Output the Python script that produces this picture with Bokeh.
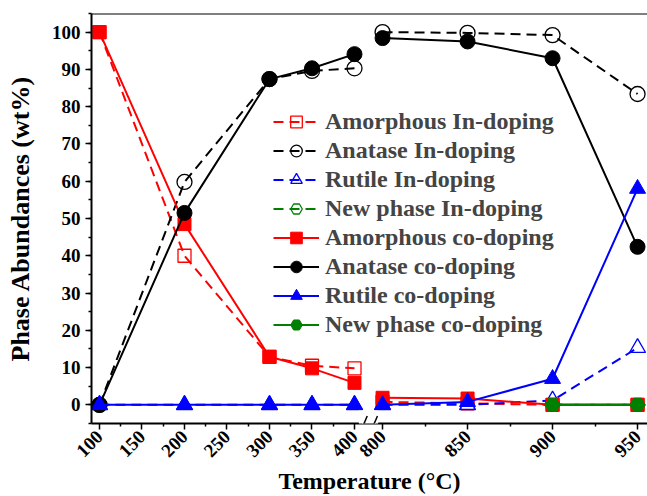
import math
from bokeh.plotting import figure
from bokeh.models import (FixedTicker, SingleIntervalTicker, Legend, LegendItem,
                          Span, Label, Range1d, Arrow)
from bokeh.embed import file_html
from bokeh.resources import INLINE

# Annealing temperatures (deg C); the axis is broken between 400 and 800
temps = [100, 200, 300, 350, 400, 800, 850, 900, 950]

nan = float("nan")
amorphous_in = [100, 40.0, 12.9, 10.5, 9.8, 0.8, 0.4, 0.0, 0.0]
anatase_in = [0, 59.8, 87.4, 89.6, 90.3, 100.0, 99.8, 99.2, 83.4]
rutile_in = [0, 0, 0, 0, 0, 0, 0, 1.2, 15.3]
newphase_in = [nan, nan, nan, nan, nan, nan, nan, 0.0, 0.0]

amorphous_co = [100, 48.5, 12.9, 9.8, 5.9, 1.9, 1.7, 0.0, 0.0]
anatase_co = [0, 51.5, 87.4, 90.3, 94.1, 98.4, 97.5, 93.0, 42.4]
rutile_co = [0, 0, 0, 0, 0, 0, 0.8, 7.0, 58.0]
newphase_co = [nan, nan, nan, nan, nan, nan, nan, 0.0, 0.0]

tick_temps = [100, 150, 200, 250, 300, 350, 400, 800, 850, 900, 950]
minor_temps = [125, 175, 225, 275, 325, 375, 825, 875, 925]


def axis_pos(t):
    """Map temperature to a position on the broken axis (high range is stretched 2x)."""
    if t <= 400:
        return t
    return 433 + 2 * (t - 800)


def broken(values):
    """Positions/values with a gap inserted at the axis break so lines are not joined."""
    xs, ys = [], []
    for t, v in zip(temps, values):
        if t == 800:
            xs.append(nan)
            ys.append(nan)
        xs.append(axis_pos(t))
        ys.append(v)
    return xs, ys


FONT = "Liberation Serif"

p = figure(width=647, height=496, output_backend="svg", toolbar_location=None,
           x_range=Range1d(90.6, 744.7), y_range=Range1d(-5, 105),
           min_border_left=91, min_border_right=0, min_border_top=13,
           min_border_bottom=73)
p.frame_width = 556
p.frame_height = 410
p.outline_line_color = None
p.grid.visible = False
p.background_fill_color = "white"

series = [
    ("Amorphous In-doping", amorphous_in, "#ff0000", "square", True, 13),
    ("Anatase In-doping", anatase_in, "black", "circle", True, 15),
    ("Rutile In-doping", rutile_in, "#0000ff", "triangle", True, 16),
    ("New phase In-doping", newphase_in, "#008000", "hex", True, 15),
    ("Amorphous co-doping", amorphous_co, "#ff0000", "square", False, 13),
    ("Anatase co-doping", anatase_co, "black", "circle", False, 15),
    ("Rutile co-doping", rutile_co, "#0000ff", "triangle", False, 16),
    ("New phase co-doping", newphase_co, "#008000", "hex", False, 15),
]

items = []
for name, vals, color, marker, open_marker, size in series:
    xs, ys = broken(vals)
    line = p.line(xs, ys, line_color=color, line_width=2,
                  line_dash="10 6" if open_marker else "solid")
    px = [axis_pos(t) for t, v in zip(temps, vals) if not math.isnan(v)]
    py = [v for v in vals if not math.isnan(v)]
    if open_marker:
        pts = p.scatter(px, py, marker=marker, size=size, fill_color="white",
                        fill_alpha=0, line_color=color, line_width=1.3)
    else:
        pts = p.scatter(px, py, marker=marker, size=size, fill_color=color,
                        line_color=color, line_width=1)
    items.append(LegendItem(label=name, renderers=[line, pts]))

legend = Legend(items=items, location=(182, 84), border_line_color=None,
                background_fill_alpha=0, padding=0, margin=0, spacing=0,
                glyph_width=46, glyph_height=29, label_height=29,
                label_standoff=6, label_text_font=FONT,
                label_text_font_style="bold", label_text_font_size="24px")
p.add_layout(legend, "center")

# x axis with the broken scale
xa = p.xaxis[0]
xa.ticker = FixedTicker(ticks=[axis_pos(t) for t in tick_temps],
                        minor_ticks=[axis_pos(t) for t in minor_temps])
xa.major_label_overrides = {axis_pos(t): str(t) for t in tick_temps}
xa.major_label_orientation = math.pi / 4
xa.axis_label = "Temperature (°C)"

ya = p.yaxis[0]
ya.ticker = SingleIntervalTicker(interval=10, num_minor_ticks=2)
ya.axis_label = "Phase Abundances (wt%)"

for ax in (xa, ya):
    ax.axis_line_width = 2
    ax.axis_line_color = "black"
    ax.major_tick_line_width = 1.5
    ax.minor_tick_line_width = 1.5
    ax.major_tick_in = 0
    ax.major_tick_out = 6
    ax.minor_tick_in = 0
    ax.minor_tick_out = 3
    ax.major_label_text_font = FONT
    ax.major_label_text_font_style = "bold"
    ax.major_label_text_font_size = "19px"
    ax.major_label_text_color = "black"
    ax.axis_label_text_font = FONT
    ax.axis_label_text_font_style = "bold"
    ax.axis_label_text_color = "black"

xa.axis_label_text_font_size = "24px"
ya.axis_label_text_font_size = "26px"
xa.major_label_standoff = 4
ya.major_label_standoff = 5
ya.axis_label_standoff = 14
xa.axis_label_standoff = 2

# top border of the frame
p.add_layout(Span(location=105, dimension="width", line_color="black",
                  line_width=2))

# break in the temperature axis: blank out the axis line, then two slashes
gap_mid = (axis_pos(400) + axis_pos(800)) / 2
p.add_layout(Label(x=gap_mid, y=-5, text="/ /", text_align="center",
                   text_baseline="middle", text_font=FONT,
                   text_font_size="24px", text_color="white",
                   background_fill_color="white"))
for dx in (-6, 6):
    p.add_layout(Arrow(start=None, end=None, line_color="black", line_width=1.5,
                       x_start=gap_mid + dx - 4.5, y_start=-7.8,
                       x_end=gap_mid + dx + 4.5, y_end=-3.0))

open("out.html", "w").write(file_html(p, INLINE))
